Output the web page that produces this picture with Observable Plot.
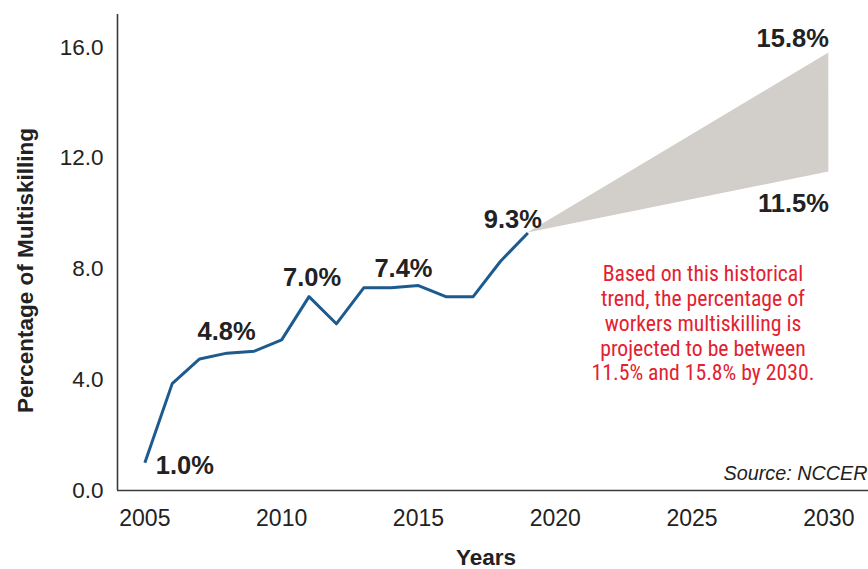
<!DOCTYPE html>
<html><head><meta charset="utf-8">
<script src="https://cdn.jsdelivr.net/npm/d3@7"></script>
<script src="https://cdn.jsdelivr.net/npm/@observablehq/plot@0.6"></script>
<style>body{margin:0;background:#fff;} svg{display:block;}</style>
</head><body><div id="chart"></div>
<script>
// Historical series
const years = [2005, 2006, 2007, 2008, 2009, 2010, 2011, 2012, 2013, 2014, 2015, 2016, 2017, 2018, 2019];
const values = [1.0, 3.86, 4.75, 4.96, 5.03, 5.44, 7.0, 6.02, 7.32, 7.32, 7.4, 7.0, 7.0, 8.28, 9.3];
// Projection band
const projYears = [2019, 2030];
const projLow = [9.3, 11.5];
const projHigh = [9.3, 15.8];
// Callout labels
const calloutYears = [2005, 2007, 2011, 2015, 2019];
const calloutLabels = ["1.0%", "4.8%", "7.0%", "7.4%", "9.3%"];
const projLabels = ["15.8%", "11.5%"];
// Axes
const xTicks = [2005, 2010, 2015, 2020, 2025, 2030];
const yTicks = [0, 4, 8, 12, 16];
const xTitle = "Years";
const yTitle = "Percentage of Multiskilling";
const noteLines = ["Based on this historical", "trend, the percentage of", "workers multiskilling is", "projected to be between", "11.5% and 15.8% by 2030."];
const source = "Source: NCCER";

const hist = years.map((year, i) => ({year, value: values[i]}));
const proj = projYears.map((year, i) => ({year, low: projLow[i], high: projHigh[i]}));
const valueOf = y => values[years.indexOf(y)];

const calloutOffsets = [[40, 3], [27, -27], [3, -19], [-15, -17], [-15, -13]];
const bold = {fontSize: 25.5, fontWeight: "bold", fill: "#222"};

const calloutMarks = calloutYears.map((yr, i) =>
  Plot.text([calloutLabels[i]], {x: () => yr, y: () => valueOf(yr), text: d => d,
    dx: calloutOffsets[i][0], dy: calloutOffsets[i][1], ...bold}));

const chart = Plot.plot({
  width: 868, height: 569,
  marginLeft: 117, marginRight: 0, marginTop: 14, marginBottom: 79,
  style: {fontFamily: "'Liberation Sans', Arial, sans-serif", background: "#fff", overflow: "visible"},
  x: {domain: [2004, 2031.45]},
  y: {domain: [0, 17.19]},
  marks: [
    Plot.areaY(proj, {x: "year", y1: "low", y2: "high", fill: "#d2cfcb"}),
    Plot.line(hist, {x: "year", y: "value", stroke: "#1d5b8f", strokeWidth: 3, strokeLinecap: "butt"}),
    Plot.ruleY([0], {stroke: "#3a3a3a", strokeWidth: 1.6}),
    Plot.ruleX([2004], {stroke: "#3a3a3a", strokeWidth: 1.6}),
    Plot.axisX({ticks: xTicks, tickSize: 0, tickPadding: 19, tickFormat: d => String(d), fontSize: 23, color: "#222", label: null}),
    Plot.axisY({ticks: yTicks, tickSize: 0, tickPadding: 14, tickFormat: d3.format(".1f"), fontSize: 22.5, color: "#222", label: null}),
    ...calloutMarks,
    Plot.text([projLabels[0]], {x: () => projYears[1], y: () => projHigh[1], text: d => d, textAnchor: "end", dy: -14, ...bold}),
    Plot.text([projLabels[1]], {x: () => projYears[1], y: () => projLow[1], text: d => d, textAnchor: "end", dy: 32, ...bold}),
    Plot.text([noteLines.join("\n")], {x: () => 2025.4, y: () => 6.05, text: d => d, lineAnchor: "middle",
      fontSize: 21.7, lineHeight: 24.75 / 21.7, fill: "#e3212f", fontFamily: "'Liberation Sans Narrow', 'Roboto Condensed', sans-serif"}),
    Plot.text([source], {x: () => 2031.45, y: () => 0.61, text: d => d, textAnchor: "end", dx: -1,
      fontSize: 19.8, fontStyle: "italic", fill: "#222"}),
    Plot.text([yTitle], {frameAnchor: "left", textAnchor: "middle", lineAnchor: "middle", dx: -92, dy: 18, rotate: -90, text: d => d, fontSize: 22.5, fontWeight: "bold", fill: "#222"}),
    Plot.text([xTitle], {frameAnchor: "bottom", textAnchor: "middle", lineAnchor: "middle", dx: -7, dy: 67, text: d => d, fontSize: 22.5, fontWeight: "bold", fill: "#222"})
  ]
});
document.getElementById("chart").appendChild(chart);
</script>
</body></html>
